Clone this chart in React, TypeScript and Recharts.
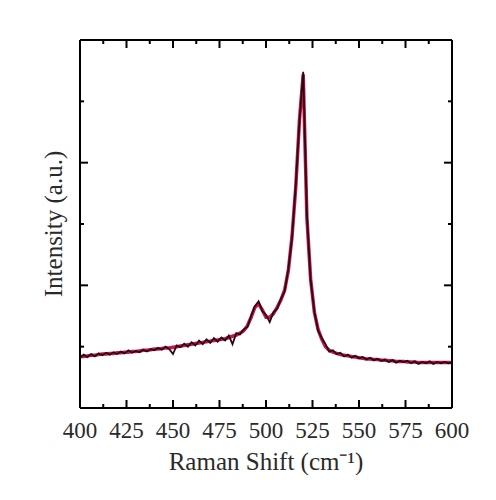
import { LineChart, Line, XAxis, YAxis, Label } from "recharts"

const shift = [
  400, 402, 404, 406, 408, 410, 412, 414, 416, 418, 420, 422, 424, 426, 428, 430, 432, 434, 436, 438,
  440, 442, 444, 446, 448, 450, 452, 454, 456, 458, 460, 462, 464, 466, 468, 470, 472, 474, 476, 478,
  480, 482, 484, 486, 488, 490, 492, 494, 496, 498, 500, 502, 504, 506, 508, 510, 512, 514, 516, 518,
  520, 522, 524, 526, 528, 530, 532, 534, 536, 538, 540, 542, 544, 546, 548, 550, 552, 554, 556, 558,
  560, 562, 564, 566, 568, 570, 572, 574, 576, 578, 580, 582, 584, 586, 588, 590, 592, 594, 596, 598, 600,
]

const rawIntensity = [
  0.41, 0.435, 0.415, 0.44, 0.42, 0.445, 0.43, 0.45, 0.435, 0.455, 0.44, 0.46, 0.445, 0.47, 0.45, 0.465, 0.455, 0.475, 0.46, 0.48,
  0.47, 0.49, 0.475, 0.5, 0.48, 0.44, 0.51, 0.495, 0.525, 0.5, 0.535, 0.51, 0.55, 0.52, 0.56, 0.53, 0.57, 0.54, 0.575, 0.55,
  0.59, 0.52, 0.61, 0.6, 0.64, 0.66, 0.75, 0.83, 0.87, 0.79, 0.76, 0.7, 0.78, 0.81, 0.89, 0.95, 1.13, 1.39, 1.82, 2.34,
  2.74, 1.57, 1.04, 0.79, 0.63, 0.57, 0.52, 0.46, 0.47, 0.44, 0.45, 0.42, 0.435, 0.41, 0.425, 0.405, 0.415, 0.395, 0.41, 0.39,
  0.4, 0.385, 0.395, 0.375, 0.39, 0.37, 0.385, 0.375, 0.385, 0.365, 0.38, 0.36, 0.375, 0.365, 0.38, 0.36, 0.375, 0.365, 0.375, 0.365, 0.37,
]

const fitIntensity = [
  0.42, 0.42, 0.425, 0.43, 0.43, 0.435, 0.44, 0.44, 0.445, 0.445, 0.45, 0.45, 0.455, 0.455, 0.46, 0.46, 0.465, 0.47, 0.47, 0.475,
  0.48, 0.48, 0.485, 0.49, 0.49, 0.495, 0.5, 0.505, 0.51, 0.515, 0.52, 0.525, 0.53, 0.535, 0.54, 0.545, 0.55, 0.555, 0.56, 0.565,
  0.575, 0.585, 0.595, 0.61, 0.63, 0.67, 0.74, 0.82, 0.85, 0.8, 0.74, 0.74, 0.77, 0.82, 0.88, 0.96, 1.12, 1.4, 1.8, 2.35,
  2.72, 1.55, 1.05, 0.78, 0.64, 0.56, 0.5, 0.47, 0.455, 0.445, 0.435, 0.43, 0.425, 0.42, 0.415, 0.41, 0.405, 0.4, 0.4, 0.395,
  0.395, 0.39, 0.39, 0.385, 0.385, 0.38, 0.38, 0.38, 0.375, 0.375, 0.375, 0.37, 0.37, 0.37, 0.37, 0.37, 0.37, 0.37, 0.37, 0.37, 0.37,
]

const xTicks = [400, 412.5, 425, 437.5, 450, 462.5, 475, 487.5, 500, 512.5, 525, 537.5, 550, 562.5, 575, 587.5, 600]
const yTicks = [0, 0.5, 1, 1.5, 2, 2.5, 3]

const data = shift.map((s, i) => ({ shift: s, raw: rawIntensity[i], fit: fitIntensity[i] }))

const FONT = "'Liberation Serif', 'Times New Roman', serif"
const TEXT = "#2a2a2a"
const AXIS = { stroke: "#000", strokeWidth: 2 }

// ticks point into the plot box, minor ticks are shorter
function BottomTick({ x, y, payload }: any) {
  const major = payload.value % 25 === 0
  return (
    <g>
      <line x1={x} x2={x} y1={y} y2={y - (major ? 8 : 4)} stroke="#000" strokeWidth={2} />
      {major && (
        <text x={x} y={y + 30} textAnchor="middle" fontSize={23} fill={TEXT} fontFamily={FONT}>
          {payload.value}
        </text>
      )}
    </g>
  )
}

function TopTick({ x, y, payload }: any) {
  const major = payload.value % 25 === 0
  return (
    <g>
      <line x1={x} x2={x} y1={y} y2={y + (major ? 8 : 4)} stroke="#000" strokeWidth={2} />
    </g>
  )
}

function LeftTick({ x, y, payload }: any) {
  const major = payload.value % 1 === 0
  return (
    <g>
      <line x1={x} x2={x + (major ? 8 : 4)} y1={y} y2={y} stroke="#000" strokeWidth={2} />
    </g>
  )
}

function RightTick({ x, y, payload }: any) {
  const major = payload.value % 1 === 0
  return (
    <g>
      <line x1={x} x2={x - (major ? 8 : 4)} y1={y} y2={y} stroke="#000" strokeWidth={2} />
    </g>
  )
}

function XTitle({ viewBox }: any) {
  return (
    <text x={viewBox.x + viewBox.width / 2} y={viewBox.y + 62} textAnchor="middle" fontSize={25} fill={TEXT} fontFamily={FONT}>
      Raman Shift (cm⁻¹)
    </text>
  )
}

function YTitle({ viewBox }: any) {
  const cx = viewBox.x + viewBox.width - 27
  const cy = viewBox.y + viewBox.height / 2
  return (
    <text x={cx} y={cy} transform={`rotate(-90 ${cx} ${cy})`} textAnchor="middle" dominantBaseline="central" fontSize={25} fill={TEXT} fontFamily={FONT}>
      Intensity (a.u.)
    </text>
  )
}

export default function App() {
  return (
    <div style={{ width: 488, height: 492 }}>
      <LineChart width={488} height={492} data={data} margin={{ top: 31, right: 43, left: 71, bottom: 62 }}>
        <XAxis
          xAxisId="bottom"
          dataKey="shift"
          type="number"
          domain={[400, 600]}
          ticks={xTicks}
          interval={0}
          allowDataOverflow
          height={30}
          tickSize={0}
          tickMargin={0}
          tickLine={false}
          axisLine={AXIS}
          tick={<BottomTick />}
        >
          <Label content={<XTitle />} />
        </XAxis>
        <XAxis
          xAxisId="top"
          orientation="top"
          dataKey="shift"
          type="number"
          domain={[400, 600]}
          ticks={xTicks}
          interval={0}
          allowDataOverflow
          height={1}
          tickSize={0}
          tickMargin={0}
          tickLine={false}
          axisLine={AXIS}
          tick={<TopTick />}
        />
        <YAxis
          yAxisId="left"
          type="number"
          domain={[0, 3]}
          ticks={yTicks}
          interval={0}
          allowDataOverflow
          width={1}
          tickSize={0}
          tickMargin={0}
          tickLine={false}
          axisLine={AXIS}
          tick={<LeftTick />}
        >
          <Label content={<YTitle />} />
        </YAxis>
        <YAxis
          yAxisId="right"
          orientation="right"
          type="number"
          domain={[0, 3]}
          ticks={yTicks}
          interval={0}
          allowDataOverflow
          width={1}
          tickSize={0}
          tickMargin={0}
          tickLine={false}
          axisLine={AXIS}
          tick={<RightTick />}
        />
        <Line
          xAxisId="top"
          yAxisId="right"
          type="linear"
          dataKey="fit"
          stroke="#c8184a"
          strokeWidth={3.5}
          dot={false}
          isAnimationActive={false}
        />
        <Line
          xAxisId="bottom"
          yAxisId="left"
          type="linear"
          dataKey="raw"
          stroke="#2a0812"
          strokeWidth={1.8}
          dot={false}
          isAnimationActive={false}
        />
      </LineChart>
    </div>
  )
}
